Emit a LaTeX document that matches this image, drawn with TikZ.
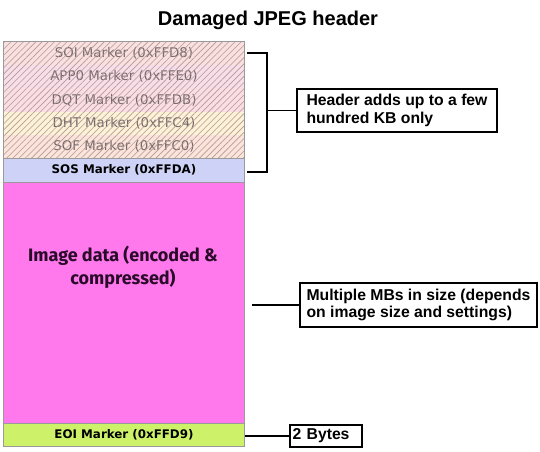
\documentclass[tikz,border=0pt]{standalone}
\usepackage{fontspec}
\setmainfont{Liberation Sans}
\newfontfamily\dvs{DejaVu Sans}
\newfontfamily\fira{Fira Sans}
\usetikzlibrary{patterns.meta}
\definecolor{cSOI}{HTML}{F9E1E1}
\definecolor{cAPP}{HTML}{F6DFEA}
\definecolor{cDQT}{HTML}{F9DEE6}
\definecolor{cDHT}{HTML}{FBF2D8}
\definecolor{cSOF}{HTML}{FAE4DC}
\definecolor{cSOS}{HTML}{CDD2F6}
\definecolor{cIMG}{HTML}{FF78EC}
\definecolor{cEOI}{HTML}{CDF26A}
\definecolor{hatch}{HTML}{B89890}
\definecolor{htext}{HTML}{766A6C}
\definecolor{itext}{HTML}{2A0C2A}
\definecolor{edge}{HTML}{9A9A9A}
\begin{document}
\begin{tikzpicture}[x=0.75pt,y=-0.75pt,
  hrow/.style={minimum width=180.75pt,minimum height=17.4pt,inner sep=0pt,text=htext,
    font=\dvs\fontsize{10}{11}\selectfont},
  brow/.style={draw=edge,line width=0.5pt,minimum width=180.75pt,inner sep=0pt,
    font=\dvs\bfseries\fontsize{8.9}{10}\selectfont},
  callout/.style={draw=black,line width=1.2pt,align=left,inner sep=4pt,
    font=\bfseries\fontsize{11.8}{13}\selectfont},
  conn/.style={draw=black,line width=1pt}]
\useasboundingbox (0,0) rectangle (540,451);
\node[font=\bfseries\fontsize{15}{18}\selectfont] (title) at (268,20) {Damaged JPEG header};
% hatched header rows
\node[hrow,fill=cSOI] (soi) at (124,53.6) {SOI Marker (0xFFD8)};
\node[hrow,fill=cAPP] (app) at (124,76.8) {APP0 Marker (0xFFE0)};
\node[hrow,fill=cDQT] (dqt) at (124,100) {DQT Marker (0xFFDB)};
\node[hrow,fill=cDHT] (dht) at (124,123.2) {DHT Marker (0xFFC4)};
\node[hrow,fill=cSOF] (sof) at (124,146.4) {SOF Marker (0xFFC0)};
\fill[pattern={Lines[angle=45,distance=3.3pt,line width=0.45pt]},pattern color=hatch]
  (soi.north west) rectangle (sof.south east);
\draw[edge,line width=0.5pt] (soi.north west) rectangle (sof.south east);
% solid rows
\node[brow,fill=cSOS,minimum height=18pt] (sos) at (124,170) {SOS Marker (0xFFDA)};
\node[brow,fill=cIMG,minimum height=180.75pt] (img) at (124,302.5) {};
\node[align=center,text=itext,font=\fira\bfseries\fontsize{13.5}{17.25}\selectfont] (imgt) at (123,267.5)
  {Image data (encoded \&\\compressed)};
\node[brow,fill=cEOI,minimum height=17.25pt] (eoi) at (124,434.5) {EOI Marker (0xFFD9)};
% callouts
\node[callout,minimum width=150pt,minimum height=32.25pt] (c1) at (397,110.5)
  {Header adds up to a few\\hundred KB only};
\node[callout,minimum width=177.75pt,minimum height=33pt] (c2) at (418.5,305)
  {Multiple MBs in size (depends\\on image size and settings)};
\node[callout,text width=50pt,inner xsep=2pt,inner ysep=1pt,minimum height=16.5pt] (c3) at (326,436)
  {2 Bytes};
% bracket and connectors
\coordinate (b1) at (247,53);
\coordinate (b2) at (267,53);
\coordinate (b3) at (267,172);
\coordinate (b4) at (247,172);
\coordinate (bm) at (267,110.5);
\draw[conn] (b1) -- (b2) -- (b3) -- (b4);
\draw[conn] (bm) -- (c1.west);
\coordinate (m2) at (252,305);
\draw[conn] (m2) -- (c2.west);
\coordinate (m3) at (245,436);
\draw[conn] (m3) -- (c3.west);
\end{tikzpicture}
\end{document}
